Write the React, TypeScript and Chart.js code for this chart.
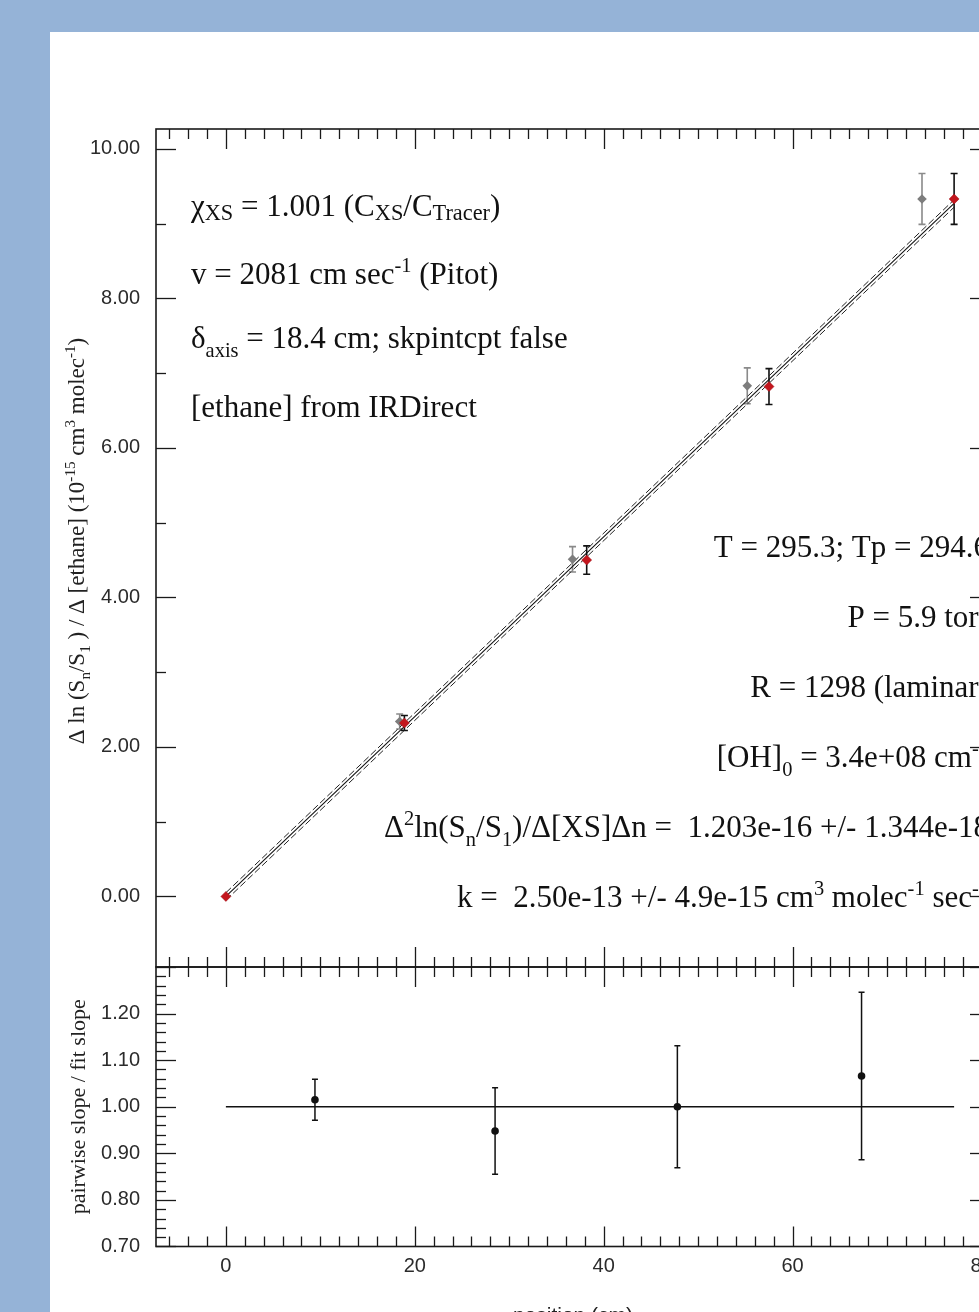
import React, { useEffect, useRef } from "react";
import { Chart, registerables } from "chart.js";

Chart.register(...registerables);

// ---------------- data ----------------
const X_MIN = -7.4;
const X_MAX = 80.9;
const TOP_Y_MIN = -0.944;
const TOP_Y_MAX = 10.266;
const BOT_Y_MIN = 0.7;
const BOT_Y_MAX = 1.3;

const X_TICKS = [0, 20, 40, 60, 80];
const X_TICK_LABELS = ["0", "20", "40", "60", "80"];
const X_MINOR_STEP = 2;
const TOP_Y_TICKS = [0, 2, 4, 6, 8, 10];
const TOP_Y_TICK_LABELS = ["0.00", "2.00", "4.00", "6.00", "8.00", "10.00"];
const TOP_Y_MINOR = [1, 3, 5, 7, 9];
const BOT_Y_TICKS = [0.7, 0.8, 0.9, 1.0, 1.1, 1.2];
const BOT_Y_TICK_LABELS = ["0.70", "0.80", "0.90", "1.00", "1.10", "1.20"];
const BOT_Y_MINOR_STEP = 0.02;

// corrected points (red) with error bars
const RED_X = [0, 18.9, 38.2, 57.5, 77.1];
const RED_Y = [0, 2.32, 4.5, 6.82, 9.33];
const RED_ERR = [0, 0.1, 0.19, 0.24, 0.34];
// uncorrected points (gray)
const GRAY_X = [18.4, 36.7, 55.2, 73.7];
const GRAY_Y = [2.34, 4.51, 6.83, 9.33];
const GRAY_ERR = [0.1, 0.17, 0.24, 0.34];
// fit line and its bounds
const FIT_X = [0, 77.1];
const FIT_Y = [0, 9.27];
const FIT_HI_Y = [0.05, 9.32];
const FIT_LO_Y = [-0.05, 9.22];

// pairwise slope / fit slope
const PAIR_X = [9.43, 28.5, 47.8, 67.3];
const PAIR_Y = [1.015, 0.948, 1.0, 1.066];
const PAIR_ERR = [0.044, 0.093, 0.131, 0.18];
const REF_X = [0, 77.1];
const REF_Y = [1, 1];

// text (segment kinds: 0 normal, 1 subscript, 2 superscript, 3 low subscript)
type Seg = [string, number?];
const TOP_Y_TITLE: Seg[] = [
  ["Δ ln (S"], ["n", 1], ["/S"], ["1", 1], [" ) / Δ [ethane] (10"], ["-15", 2],
  [" cm"], ["3", 2], [" molec"], ["-1", 2], [")"],
];
const BOT_Y_TITLE = "pairwise slope / fit slope";
const X_TITLE = "position (cm)";

const LEFT_NOTES: Seg[][] = [
  [["χ"], ["XS", 3], [" = 1.001 (C"], ["XS", 3], ["/C"], ["Tracer", 3], [")"]],
  [["v = 2081 cm sec"], ["-1", 2], [" (Pitot)"]],
  [["δ"], ["axis", 1], [" = 18.4 cm; skpintcpt false"]],
  [["[ethane] from IRDirect"]],
];
const LEFT_NOTE_BASELINES = [216, 284, 348, 417];
const RIGHT_NOTES: Seg[][] = [
  [["T = 295.3; Tp = 294.6"]],
  [["P = 5.9 torr"]],
  [["R = 1298 (laminar)"]],
  [["[OH]"], ["0", 1], [" = 3.4e+08 cm"], ["-3", 2]],
  [["Δ"], ["2", 2], ["ln(S"], ["n", 1], ["/S"], ["1", 1], [")/Δ[XS]Δn =  1.203e-16 +/- 1.344e-18"]],
  [["k =  2.50e-13 +/- 4.9e-15 cm"], ["3", 2], [" molec"], ["-1", 2], [" sec"], ["-1", 2]],
];
const RIGHT_NOTE_BASELINES = [557, 627, 697, 767, 837, 907];

// ---------------- helpers ----------------
const SERIF = '"Liberation Serif", "Times New Roman", serif';
const SANS = '"Liberation Sans", Arial, sans-serif';

function drawRich(ctx: CanvasRenderingContext2D, segs: Seg[], x: number, y: number, align: string, size: number) {
  const parts = segs.map((s) => {
    const kind = s[1] || 0;
    const sz = kind === 0 ? size : kind === 3 ? size * 0.72 : size * 0.66;
    ctx.font = `${sz}px ${SERIF}`;
    return { t: s[0], kind, sz, w: ctx.measureText(s[0]).width };
  });
  const total = parts.reduce((a, p) => a + p.w, 0);
  let cx = align === "left" ? x : align === "right" ? x - total : x - total / 2;
  ctx.textAlign = "left";
  ctx.textBaseline = "alphabetic";
  for (const p of parts) {
    ctx.font = `${p.sz}px ${SERIF}`;
    const dy = p.kind === 1 ? size * 0.28 : p.kind === 2 ? -size * 0.38 : p.kind === 3 ? size * 0.13 : 0;
    ctx.fillText(p.t, cx, y + dy);
    cx += p.w;
  }
}

const pts = (xs: number[], ys: number[]) => xs.map((x, i) => ({ x, y: ys[i] }));

function drawErrorBars(chart: any, xs: number[], ys: number[], errs: number[], color: string, width: number, cap: number) {
  const ctx = chart.ctx;
  const sx = chart.scales.x;
  const sy = chart.scales.y;
  ctx.save();
  ctx.strokeStyle = color;
  ctx.lineWidth = width;
  xs.forEach((x, i) => {
    if (!errs[i]) return;
    const px = sx.getPixelForValue(x);
    const p1 = sy.getPixelForValue(ys[i] + errs[i]);
    const p2 = sy.getPixelForValue(ys[i] - errs[i]);
    ctx.beginPath();
    ctx.moveTo(px, p1);
    ctx.lineTo(px, p2);
    ctx.moveTo(px - cap, p1);
    ctx.lineTo(px + cap, p1);
    ctx.moveTo(px - cap, p2);
    ctx.lineTo(px + cap, p2);
    ctx.stroke();
  });
  ctx.restore();
}

function drawFrameTicks(chart: any, yTicks: { v: number; len: number }[]) {
  const ctx = chart.ctx;
  const ca = chart.chartArea;
  const sx = chart.scales.x;
  const sy = chart.scales.y;
  ctx.save();
  ctx.strokeStyle = "#1a1a1a";
  ctx.lineWidth = 1.3;
  const line = (x1: number, y1: number, x2: number, y2: number) => {
    ctx.beginPath();
    ctx.moveTo(x1, y1);
    ctx.lineTo(x2, y2);
    ctx.stroke();
  };
  for (let k = Math.ceil(X_MIN / X_MINOR_STEP); k * X_MINOR_STEP <= X_MAX; k++) {
    const v = k * X_MINOR_STEP;
    const len = X_TICKS.includes(v) ? 20 : 10;
    const px = Math.round(sx.getPixelForValue(v)) + 0.5;
    line(px, ca.top, px, ca.top + len);
    line(px, ca.bottom, px, ca.bottom - len);
  }
  yTicks.forEach(({ v, len }) => {
    const py = Math.round(sy.getPixelForValue(v)) + 0.5;
    line(ca.left, py, ca.left + len, py);
    line(ca.right, py, ca.right - len, py);
  });
  ctx.lineWidth = 1.6;
  ctx.strokeRect(ca.left, ca.top, ca.right - ca.left, ca.bottom - ca.top);
  ctx.restore();
}

function topConfig(): any {
  const yTicks = [
    ...TOP_Y_TICKS.map((v) => ({ v, len: 20 })),
    ...TOP_Y_MINOR.map((v) => ({ v, len: 10 })),
  ];
  return {
    type: "scatter",
    data: {
      datasets: [
        { label: "corrected", data: pts(RED_X, RED_Y), pointStyle: "rectRot", pointRadius: 5, backgroundColor: "#c3161d", borderColor: "#a01018", borderWidth: 0.5, showLine: false },
        { label: "uncorrected", data: pts(GRAY_X, GRAY_Y), pointStyle: "rectRot", pointRadius: 4.8, backgroundColor: "#7d7d7d", borderWidth: 0, showLine: false },
        { label: "fit", data: pts(FIT_X, FIT_Y), showLine: true, borderColor: "#111", borderWidth: 1.1, pointRadius: 0 },
        { label: "fit hi", data: pts(FIT_X, FIT_HI_Y), showLine: true, borderColor: "#222", borderWidth: 1, borderDash: [7, 3], pointRadius: 0 },
        { label: "fit lo", data: pts(FIT_X, FIT_LO_Y), showLine: true, borderColor: "#222", borderWidth: 1, borderDash: [7, 3], pointRadius: 0 },
      ],
    },
    options: {
      responsive: false,
      animation: false,
      devicePixelRatio: 1,
      layout: { padding: { left: 0, right: 110, top: 129, bottom: 33 } },
      plugins: { legend: { display: false }, tooltip: { enabled: false } },
      scales: {
        x: { type: "linear", min: X_MIN, max: X_MAX, display: false, bounds: "data" },
        y: {
          type: "linear",
          min: TOP_Y_MIN,
          max: TOP_Y_MAX,
          bounds: "data",
          afterFit: (a: any) => { a.width = 156; },
          afterBuildTicks: (a: any) => { a.ticks = TOP_Y_TICKS.map((v) => ({ value: v })); },
          grid: { display: false, drawTicks: false },
          border: { display: false },
          ticks: {
            autoSkip: false,
            padding: 16,
            color: "#2b2b2b",
            font: { family: SANS, size: 20 },
            callback: (_v: any, i: number) => TOP_Y_TICK_LABELS[i],
          },
        },
      },
    },
    plugins: [
      {
        id: "topDecor",
        beforeDatasetsDraw(chart: any) {
          drawErrorBars(chart, GRAY_X, GRAY_Y, GRAY_ERR, "#8a8a8a", 1.6, 3.5);
          drawErrorBars(chart, RED_X, RED_Y, RED_ERR, "#111", 1.6, 3.5);
        },
        afterDraw(chart: any) {
          const ctx = chart.ctx;
          drawFrameTicks(chart, yTicks);
          ctx.save();
          ctx.fillStyle = "#111";
          LEFT_NOTES.forEach((segs, i) => drawRich(ctx, segs, 191, LEFT_NOTE_BASELINES[i], "left", 31));
          RIGHT_NOTES.forEach((segs, i) => drawRich(ctx, segs, chart.chartArea.right - 1, RIGHT_NOTE_BASELINES[i], "right", 31));
          ctx.translate(84, 541);
          ctx.rotate(-Math.PI / 2);
          ctx.fillStyle = "#222";
          drawRich(ctx, TOP_Y_TITLE, 0, 0, "center", 23);
          ctx.restore();
        },
      },
    ],
  };
}

function botConfig(): any {
  const yTicks: { v: number; len: number }[] = [];
  const n0 = Math.round(BOT_Y_MIN / BOT_Y_MINOR_STEP);
  const n1 = Math.round(BOT_Y_MAX / BOT_Y_MINOR_STEP);
  for (let k = n0; k <= n1; k++) yTicks.push({ v: k * BOT_Y_MINOR_STEP, len: k % 5 === 0 ? 20 : 10 });
  return {
    type: "scatter",
    data: {
      datasets: [
        { label: "pairwise", data: pts(PAIR_X, PAIR_Y), pointStyle: "circle", pointRadius: 3.8, backgroundColor: "#111", borderWidth: 0, showLine: false },
        { label: "unity", data: pts(REF_X, REF_Y), showLine: true, borderColor: "#111", borderWidth: 1.5, pointRadius: 0 },
      ],
    },
    options: {
      responsive: false,
      animation: false,
      devicePixelRatio: 1,
      layout: { padding: { left: 0, right: 110, top: 67, bottom: 0 } },
      plugins: { legend: { display: false }, tooltip: { enabled: false } },
      scales: {
        x: {
          type: "linear",
          min: X_MIN,
          max: X_MAX,
          bounds: "data",
          afterFit: (a: any) => { a.height = 93.5; },
          afterBuildTicks: (a: any) => { a.ticks = X_TICKS.map((v) => ({ value: v })); },
          grid: { display: false, drawTicks: false },
          border: { display: false },
          ticks: {
            autoSkip: false,
            maxRotation: 0,
            padding: 8,
            color: "#2b2b2b",
            font: { family: SANS, size: 20 },
            callback: (_v: any, i: number) => X_TICK_LABELS[i],
          },
          title: { display: true, text: X_TITLE, color: "#222", font: { family: SANS, size: 21 }, padding: { bottom: 11, top: 0 } },
        },
        y: {
          type: "linear",
          min: BOT_Y_MIN,
          max: BOT_Y_MAX,
          bounds: "data",
          afterFit: (a: any) => { a.width = 156; },
          afterBuildTicks: (a: any) => { a.ticks = BOT_Y_TICKS.map((v) => ({ value: v })); },
          grid: { display: false, drawTicks: false },
          border: { display: false },
          ticks: {
            autoSkip: false,
            padding: 16,
            color: "#2b2b2b",
            font: { family: SANS, size: 20 },
            callback: (_v: any, i: number) => BOT_Y_TICK_LABELS[i],
          },
          title: { display: true, text: BOT_Y_TITLE, color: "#222", font: { family: SERIF, size: 22 }, padding: { top: 66, bottom: 0 } },
        },
      },
    },
    plugins: [
      {
        id: "botDecor",
        beforeDatasetsDraw(chart: any) {
          drawErrorBars(chart, PAIR_X, PAIR_Y, PAIR_ERR, "#111", 1.5, 3);
        },
        afterDraw(chart: any) {
          drawFrameTicks(chart, yTicks);
        },
      },
    ],
  };
}

export default function App() {
  const topRef = useRef<HTMLCanvasElement>(null);
  const botRef = useRef<HTMLCanvasElement>(null);
  useEffect(() => {
    const c1 = new Chart(topRef.current as HTMLCanvasElement, topConfig());
    const c2 = new Chart(botRef.current as HTMLCanvasElement, botConfig());
    return () => {
      c1.destroy();
      c2.destroy();
    };
  }, []);
  return (
    <div style={{ position: "absolute", left: 0, top: 0, width: 979, height: 1312, overflow: "hidden", background: "#95B3D7" }}>
      <div style={{ position: "absolute", left: 50, top: 32, width: 1200, height: 1400, background: "#ffffff" }} />
      <canvas ref={topRef} width={1100} height={1000} style={{ position: "absolute", left: 0, top: 0, width: 1100, height: 1000 }} />
      <canvas ref={botRef} width={1100} height={440} style={{ position: "absolute", left: 0, top: 900, width: 1100, height: 440 }} />
    </div>
  );
}
